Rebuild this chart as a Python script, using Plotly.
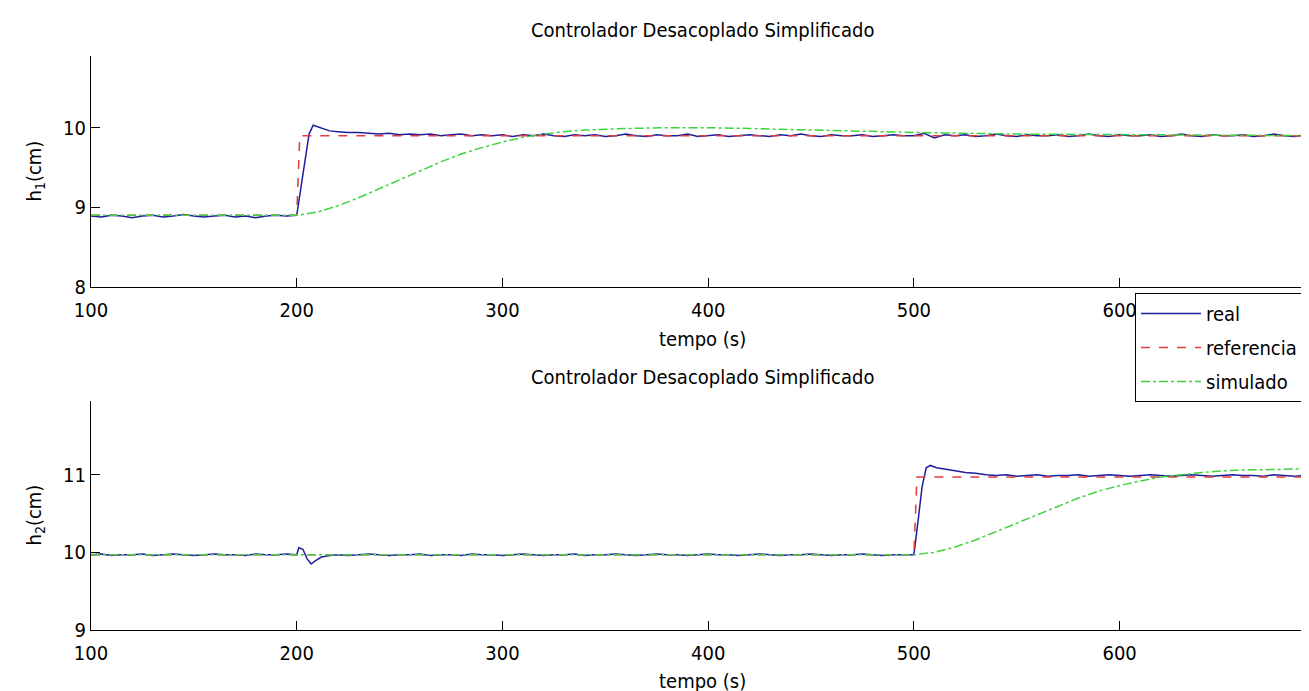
import plotly.graph_objects as go

# ---------------- data ----------------
# h1 (top)
t1_pre = list(range(100, 200, 5))
h1_pre = [8.89, 8.88, 8.90, 8.89, 8.87, 8.89, 8.90, 8.88, 8.89, 8.91,
          8.89, 8.88, 8.89, 8.90, 8.88, 8.89, 8.87, 8.89, 8.90, 8.89]
t1_tr = [200, 202, 204, 206, 208, 210, 213, 216, 220]
h1_tr = [8.90, 9.25, 9.60, 9.92, 10.03, 10.01, 9.98, 9.96, 9.95]
t1_post = list(range(225, 700, 5))
h1_post = [9.94, 9.94, 9.93, 9.92, 9.93, 9.91, 9.92, 9.91, 9.92, 9.90,
           9.91, 9.92, 9.90, 9.91, 9.90, 9.91, 9.89, 9.91, 9.90, 9.92,
           9.90, 9.89, 9.91, 9.90, 9.91, 9.89, 9.90, 9.92, 9.90, 9.89,
           9.91, 9.90, 9.90, 9.92, 9.89, 9.90, 9.91, 9.89, 9.90, 9.91,
           9.90, 9.89, 9.91, 9.90, 9.92, 9.90, 9.89, 9.91, 9.90, 9.90,
           9.91, 9.89, 9.90, 9.91, 9.90, 9.90, 9.93, 9.87, 9.91, 9.90,
           9.91, 9.89, 9.90, 9.92, 9.90, 9.89, 9.91, 9.90, 9.90, 9.91,
           9.89, 9.90, 9.92, 9.90, 9.89, 9.91, 9.90, 9.90, 9.91, 9.89,
           9.90, 9.92, 9.90, 9.89, 9.91, 9.90, 9.90, 9.91, 9.89, 9.90,
           9.92, 9.90, 9.89, 9.91, 9.89]
t1_real = t1_pre + t1_tr + t1_post
h1_real = h1_pre + h1_tr + h1_post

t1_ref = [100, 200, 201.5, 694]
h1_ref = [8.90, 8.90, 9.90, 9.90]

t1_sim = [100, 200, 210, 220, 230, 240, 250, 260, 270, 280, 290, 300, 310,
          320, 330, 340, 360, 380, 400, 420, 450, 480, 500, 550, 600, 650, 694]
h1_sim = [8.90, 8.90, 8.94, 9.02, 9.12, 9.23, 9.35, 9.46, 9.57, 9.67, 9.75,
          9.82, 9.88, 9.92, 9.95, 9.97, 9.99, 10.00, 10.00, 9.99, 9.97, 9.95,
          9.94, 9.92, 9.91, 9.90, 9.90]

# h2 (bottom)
t2_pre = list(range(100, 200, 5))
h2_pre = [9.97, 9.98, 9.96, 9.97, 9.97, 9.98, 9.96, 9.97, 9.98, 9.97,
          9.96, 9.97, 9.98, 9.97, 9.97, 9.96, 9.98, 9.97, 9.97, 9.98]
t2_dist = [200, 201, 203, 205, 207, 209, 212, 216, 220]
h2_dist = [9.97, 10.06, 10.04, 9.92, 9.85, 9.89, 9.94, 9.96, 9.97]
t2_mid = list(range(225, 500, 5))
h2_mid = [9.96, 9.97, 9.98, 9.97, 9.96, 9.97, 9.97, 9.98, 9.96, 9.97,
          9.97, 9.96, 9.98, 9.97, 9.97, 9.96, 9.97, 9.98, 9.97, 9.96,
          9.97, 9.97, 9.98, 9.96, 9.97, 9.97, 9.98, 9.97, 9.96, 9.97,
          9.98, 9.97, 9.97, 9.96, 9.97, 9.98, 9.97, 9.97, 9.96, 9.97,
          9.98, 9.97, 9.96, 9.97, 9.97, 9.98, 9.97, 9.96, 9.97, 9.97,
          9.98, 9.97, 9.96, 9.97, 9.97]
t2_step = [500, 502, 504, 506, 508, 511, 515, 520, 525, 530]
h2_step = [9.97, 10.40, 10.85, 11.09, 11.12, 11.09, 11.07, 11.05, 11.03, 11.02]
t2_post = list(range(535, 700, 5))
h2_post = [11.00, 10.99, 11.00, 10.98, 10.99, 11.00, 10.98, 10.99, 10.99, 11.00,
           10.98, 10.99, 11.00, 10.99, 10.98, 10.99, 11.00, 10.99, 10.98, 10.99,
           11.00, 10.99, 10.98, 10.99, 11.00, 10.99, 10.99, 10.98, 11.00, 10.99,
           10.98, 10.99, 10.99]
t2_real = t2_pre + t2_dist + t2_mid + t2_step + t2_post
h2_real = h2_pre + h2_dist + h2_mid + h2_step + h2_post

t2_ref = [100, 500, 501.5, 694]
h2_ref = [9.97, 9.97, 10.97, 10.97]

t2_sim = [100, 500, 510, 520, 530, 540, 550, 560, 570, 580, 590, 600, 610,
          620, 630, 640, 650, 660, 680, 694]
h2_sim = [9.97, 9.97, 10.00, 10.07, 10.16, 10.27, 10.38, 10.49, 10.60, 10.70,
          10.79, 10.86, 10.92, 10.97, 11.00, 11.03, 11.05, 11.06, 11.07, 11.08]

x_ticks = [100, 200, 300, 400, 500, 600]
y1_ticks = [8, 9, 10]
y2_ticks = [9, 10, 11]
title_txt = "Controlador Desacoplado Simplificado"
xlabel_txt = "tempo (s)"
ylabel1_txt = "h<sub>1</sub>(cm)"
ylabel2_txt = "h<sub>2</sub>(cm)"
series_names = ["real", "referencia", "simulado"]

assert len(t1_real) == len(h1_real)
assert len(t2_real) == len(h2_real)

# ---------------- style ----------------
FONT = "Liberation Sans Narrow, DejaVu Sans Condensed, Arial Narrow, sans-serif"
FS = 20
C_REAL = "#1f1f9c"
C_REF = "#e23b3b"
C_SIM = "#3fd23f"

fig = go.Figure()

def add_set(tr, hr, tf, hf, ts, hs, xa, ya, show):
    fig.add_trace(go.Scatter(x=tr, y=hr, mode="lines", name=series_names[0],
                             line=dict(color=C_REAL, width=1.5), xaxis=xa, yaxis=ya,
                             showlegend=show, legendgroup="g1", legendrank=1))
    fig.add_trace(go.Scatter(x=tf, y=hf, mode="lines", name=series_names[1],
                             line=dict(color=C_REF, width=1.5, dash="dash"), xaxis=xa, yaxis=ya,
                             showlegend=show, legendgroup="g2", legendrank=2))
    fig.add_trace(go.Scatter(x=ts, y=hs, mode="lines", name=series_names[2],
                             line=dict(color=C_SIM, width=1.5, dash="dashdot"), xaxis=xa, yaxis=ya,
                             showlegend=show, legendgroup="g3", legendrank=3))

add_set(t1_real, h1_real, t1_ref, h1_ref, t1_sim, h1_sim, "x", "y", True)
add_set(t2_real, h2_real, t2_ref, h2_ref, t2_sim, h2_sim, "x2", "y2", False)

W, H = 1309, 691
L, R = 83, 1305
T1, B1 = 48, 279
T2, B2 = 393, 622
xd = [L / W, R / W]
y1d = [1 - B1 / H, 1 - T1 / H]
y2d = [1 - B2 / H, 1 - T2 / H]

axis_common = dict(showline=True, linecolor="black", linewidth=1, ticks="inside",
                   ticklen=9, tickcolor="black", tickwidth=1, showgrid=False,
                   zeroline=False, mirror=False, automargin=False,
                   tickfont=dict(family=FONT, size=FS, color="black"))

xc = (xd[0] + xd[1]) / 2

def txt(text, x, y, angle=0):
    return dict(text=text, x=x, y=y, xref="paper", yref="paper", showarrow=False,
                xanchor="center", yanchor="middle", textangle=angle,
                font=dict(family=FONT, size=FS, color="black"))

fig.update_layout(
    width=W, height=H,
    margin=dict(l=0, r=0, t=0, b=0),
    paper_bgcolor="white", plot_bgcolor="white",
    font=dict(family=FONT, size=FS, color="black"),
    xaxis=dict(domain=xd, range=[100, 694], tickvals=x_ticks, anchor="y",
               ticklabelstandoff=5, **axis_common),
    yaxis=dict(domain=y1d, range=[8, 10.9], tickvals=y1_ticks, anchor="x", **axis_common),
    xaxis2=dict(domain=xd, range=[100, 694], tickvals=x_ticks, anchor="y2",
                ticklabelstandoff=5, **axis_common),
    yaxis2=dict(domain=y2d, range=[9, 11.95], tickvals=y2_ticks, anchor="x2", **axis_common),
    legend=dict(x=1127 / W, y=1 - 285 / H, xanchor="left", yanchor="top",
                bgcolor="white", bordercolor="black", borderwidth=1,
                font=dict(family=FONT, size=FS, color="black"),
                itemwidth=60, tracegroupgap=5, traceorder="grouped"),
    annotations=[
        txt(title_txt, xc, 1 - 22 / H),
        txt(title_txt, xc, 1 - 369 / H),
        txt(xlabel_txt, xc, 1 - 331 / H),
        txt(xlabel_txt, xc, 1 - 673 / H),
        txt(ylabel1_txt, 26 / W, 1 - ((T1 + B1) / 2) / H, -90),
        txt(ylabel2_txt, 26 / W, 1 - ((T2 + B2) / 2) / H, -90),
    ],
)

fig.write_html("out.html")
